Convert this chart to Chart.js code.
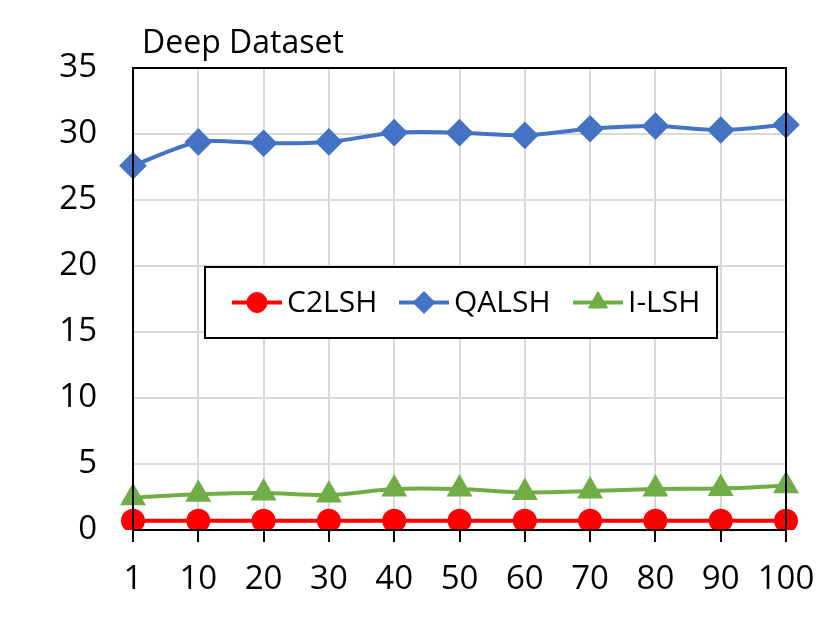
<!DOCTYPE html>
<html>
<head>
<meta charset="utf-8">
<script src="https://cdn.jsdelivr.net/npm/chart.js@4.4.1/dist/chart.umd.min.js"></script>
<style>
  html, body { margin: 0; padding: 0; background: #fff; }
</style>
</head>
<body>
<canvas id="grafico" width="831" height="630"></canvas>
<script>
const categorias = ["1", "10", "20", "30", "40", "50", "60", "70", "80", "90", "100"];
const c2lsh = [0.7, 0.7, 0.7, 0.7, 0.7, 0.7, 0.7, 0.7, 0.7, 0.7, 0.7];
const qalsh = [27.6, 29.4, 29.3, 29.4, 30.1, 30.1, 29.9, 30.4, 30.6, 30.3, 30.7];
const ilsh = [2.45, 2.7, 2.8, 2.65, 3.1, 3.1, 2.85, 2.95, 3.1, 3.15, 3.35];
const yTicks = [0, 5, 10, 15, 20, 25, 30, 35];

const fonte = "'Open Sans', 'DejaVu Sans', sans-serif";

const legendaPlugin = {
  id: "legendaInterna",
  afterDatasetsDraw(chart) {
    const ctx = chart.ctx;
    const area = chart.chartArea;
    ctx.save();
    // borda da area do grafico
    ctx.strokeStyle = "#000";
    ctx.lineWidth = 2;
    ctx.strokeRect(area.left, area.top, area.right - area.left, area.bottom - area.top);

    // titulo
    ctx.fillStyle = "#000";
    ctx.font = "32px " + fonte;
    ctx.textBaseline = "alphabetic";
    ctx.textAlign = "left";
    ctx.fillText("Deep Dataset", 142, 53);

    // caixa da legenda
    const bx = 205, by = 267, bw = 512, bh = 71;
    ctx.fillStyle = "#fff";
    ctx.fillRect(bx, by, bw, bh);
    ctx.strokeStyle = "#000";
    ctx.lineWidth = 2;
    ctx.strokeRect(bx, by, bw, bh);

    const cy = by + bh / 2;
    const itens = [232, 399, 573];
    chart.data.datasets.forEach((ds, i) => {
      const x0 = itens[i];
      ctx.strokeStyle = ds.borderColor;
      ctx.lineWidth = 4;
      ctx.beginPath();
      ctx.moveTo(x0, cy);
      ctx.lineTo(x0 + 50, cy);
      ctx.stroke();
      ctx.fillStyle = ds.borderColor;
      ctx.lineWidth = 1;
      Chart.helpers.drawPoint(ctx, {
        pointStyle: ds.pointStyle,
        radius: ds.pointRadius,
        borderWidth: 1
      }, x0 + 25, cy);
      ctx.fillStyle = "#000";
      ctx.font = "30px " + fonte;
      ctx.textBaseline = "middle";
      ctx.fillText(ds.label, x0 + 55, cy + 1);
    });
    ctx.restore();
  }
};

function serie(label, dados, cor, estilo, raio, tensao) {
  return {
    label: label,
    data: dados,
    borderColor: cor,
    backgroundColor: cor,
    pointBackgroundColor: cor,
    pointBorderColor: cor,
    pointStyle: estilo,
    pointRadius: raio,
    pointHoverRadius: raio,
    borderWidth: 4,
    tension: tensao
  };
}

const ctx = document.getElementById("grafico").getContext("2d");

new Chart(ctx, {
  type: "line",
  data: {
    labels: categorias,
    datasets: [
      serie("C2LSH", c2lsh, "#FF0000", "circle", 10, 0),
      serie("QALSH", qalsh, "#4472C4", "rectRot", 11, 0.3),
      serie("I-LSH", ilsh, "#70AD47", "triangle", 11, 0.3)
    ]
  },
  options: {
    responsive: false,
    animation: false,
    layout: {
      padding: { left: 0, right: 45, top: 68, bottom: 0 }
    },
    plugins: {
      legend: { display: false },
      title: { display: false },
      tooltip: { enabled: false }
    },
    scales: {
      x: {
        offset: false,
        grid: {
          color: "#d9d9d9",
          lineWidth: 2,
          tickColor: "#000",
          tickLength: 12,
          tickWidth: 2
        },
        border: { color: "#000", width: 2 },
        ticks: {
          color: "#000",
          font: { family: fonte, size: 33 },
          padding: 18,
          maxRotation: 0,
          autoSkip: false
        },
        afterFit(scale) {
          scale.height = 100;
          scale.paddingLeft = 0;
          scale.paddingRight = 0;
        }
      },
      y: {
        min: 0,
        max: 35,
        afterBuildTicks(scale) {
          scale.ticks = yTicks.map(v => ({ value: v }));
        },
        grid: {
          color: "#d9d9d9",
          lineWidth: 2,
          drawTicks: false
        },
        border: { color: "#000", width: 2 },
        ticks: {
          color: "#000",
          font: { family: fonte, size: 33 },
          padding: 36
        },
        afterFit(scale) { scale.width = 133; }
      }
    }
  },
  plugins: [legendaPlugin]
});
</script>
</body>
</html>
